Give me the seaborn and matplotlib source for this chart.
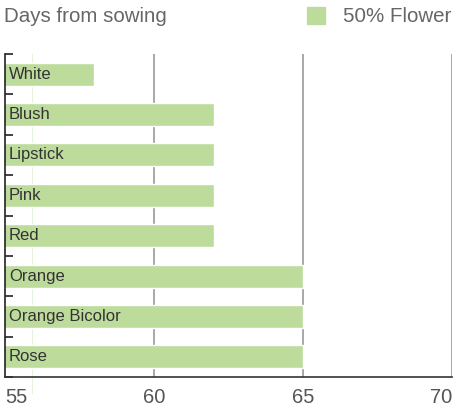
import pandas as pd
import matplotlib.pyplot as plt
import seaborn as sns

# chart data
varieties = ['White', 'Blush', 'Lipstick', 'Pink', 'Red', 'Orange', 'Orange Bicolor', 'Rose']
days_to_flower = [58, 62, 62, 62, 62, 65, 65, 65]
x_ticks = [55, 60, 65, 70]

bar_color = '#bddc9c'

df = pd.DataFrame({'variety': varieties, 'days': days_to_flower})

sns.set_style('white')
plt.rcParams['font.family'] = ['Liberation Sans', 'DejaVu Sans']

fig = plt.figure(figsize=(4.54, 4.09), dpi=100)
ax = fig.add_axes([0.011, 0.078, 0.985, 0.79])

# grid lines behind bars
for v in x_ticks[1:]:
    ax.axvline(v, color='#999999', lw=1.2, zorder=0)

sns.barplot(data=df, y='variety', x='days', orient='h', color=bar_color,
            width=0.57, saturation=1, ax=ax, zorder=2)

# faint guide line seen in the original
ax.plot([55.9, 55.9], [-0.5, 7.9], color='#e6f3dc', lw=0.8, zorder=1, clip_on=False)

ax.set_xlim(55, 70)
ax.set_ylim(7.5, -0.5)
ax.set_xticks(x_ticks)
ax.set_xticklabels([str(t) for t in x_ticks], fontsize=14.5, color='#555555')
ax.tick_params(axis='x', length=0, pad=8)
xt = ax.get_xticklabels()
xt[0].set_horizontalalignment('left')
xt[-1].set_horizontalalignment('right')

# left ticks at category boundaries
ax.set_yticks([i - 0.5 for i in range(len(varieties) + 1)])
ax.set_yticklabels([])
ax.tick_params(axis='y', direction='in', length=6, width=1.2, color='#222222', left=True)
ax.set_xlabel('')
ax.set_ylabel('')

for i, name in enumerate(varieties):
    ax.text(55.13, i, name, va='center', ha='left', fontsize=12, color='#333333', zorder=3)

for side in ['top', 'right']:
    ax.spines[side].set_visible(False)
ax.spines['left'].set_color('#222222')
ax.spines['left'].set_linewidth(1.2)
ax.spines['bottom'].set_color('#333333')
ax.spines['bottom'].set_linewidth(1.2)

# title and legend
fig.text(0.009, 0.96, 'Days from sowing', fontsize=14.8, color='#666666', va='center')
fig.patches.append(plt.Rectangle((307 / 454, 1 - 24 / 409), 18 / 454, 17 / 409,
                                 color=bar_color, transform=fig.transFigure))
fig.text(343 / 454, 0.96, '50% Flower', fontsize=14.8, color='#666666', va='center')

plt.savefig('out.png', dpi=100)
